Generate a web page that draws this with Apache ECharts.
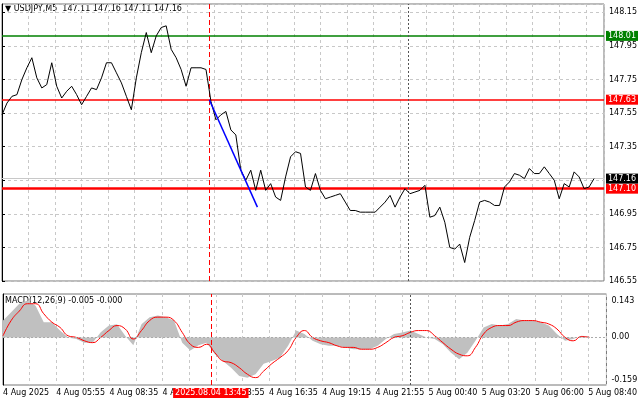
<!DOCTYPE html>
<html><head><meta charset="utf-8">
<script src="https://cdn.jsdelivr.net/npm/echarts@6/dist/echarts.min.js"></script>
<style>html,body{margin:0;padding:0;background:#fff}#c{width:640px;height:401px}</style>
</head><body><div id="c"></div>
<script>
// price samples, one every 3 M5 bars (15 min) starting 4 Aug 03:15
const prices = [147.54,147.61,147.65,147.66,147.75,147.82,147.88,147.76,147.70,147.72,
147.85,147.71,147.64,147.68,147.71,147.66,147.60,147.65,147.70,147.69,
147.76,147.85,147.85,147.79,147.73,147.65,147.57,147.76,147.91,148.03,
147.91,148.01,148.06,148.07,147.93,147.88,147.81,147.71,147.82,147.82,
147.82,147.81,147.62,147.51,147.54,147.56,147.45,147.42,147.21,147.15,
147.21,147.09,147.21,147.09,147.13,147.05,147.03,147.17,147.29,147.32,
147.31,147.11,147.09,147.19,147.09,147.04,147.05,147.06,147.07,147.02,
146.97,146.97,146.96,146.96,146.96,146.96,146.99,147.02,147.06,146.99,
147.05,147.10,147.07,147.08,147.09,147.12,146.93,146.94,146.99,146.90,
146.75,146.74,146.77,146.66,146.81,146.91,147.02,147.03,147.02,147.00,
147.00,147.11,147.14,147.19,147.18,147.16,147.22,147.19,147.19,147.23,
147.19,147.15,147.04,147.13,147.11,147.20,147.17,147.10,147.11,147.16];
const macdHist = [0.064,0.096,0.128,0.14,0.12,0.058,0.058,0.026,0,-0.006,-0.02,-0.02,0.02,0.045,0.05,0.006,-0.03,0.05,0.077,0.083,0.077,0.064,-0.02,-0.05,-0.03,-0.02,-0.064,-0.09,-0.115,-0.147,-0.153,-0.14,-0.10,-0.09,-0.077,-0.032,0.026,0.013,-0.013,-0.026,-0.032,-0.032,-0.038,-0.045,-0.045,-0.045,-0.032,-0.006,0.013,0.019,0.026,0.013,0,-0.006,-0.026,-0.058,-0.083,-0.058,-0.013,0.038,0.051,0.045,0.051,0.070,0.064,0.064,0.058,0.045,0.013,-0.013,-0.006,0.006,0.003];
const macdSignal = [0.006,0.064,0.10,0.128,0.128,0.09,0.058,0.038,0.006,0,-0.013,-0.02,0,0.026,0.045,0.032,-0.006,0.026,0.064,0.077,0.077,0.064,0.019,-0.026,-0.038,-0.026,-0.058,-0.09,-0.096,-0.115,-0.14,-0.153,-0.128,-0.10,-0.077,-0.05,0,0.026,0,-0.013,-0.02,-0.032,-0.038,-0.038,-0.045,-0.045,-0.038,-0.02,0,0.006,0.019,0.026,0.026,0.006,-0.02,-0.045,-0.064,-0.07,-0.038,0.013,0.038,0.045,0.045,0.058,0.064,0.064,0.058,0.051,0.032,0,-0.013,0.003,0];
const timeLabels = ['4 Aug 2025','4 Aug 05:55','4 Aug 08:35','4 Aug 11:15','4 Aug 13:55','4 Aug 16:35','4 Aug 19:15','4 Aug 21:55','5 Aug 00:40','5 Aug 03:20','5 Aug 06:00','5 Aug 08:40'];
const levels = [{v:148.01,c:'#008000',w:1.5},{v:147.63,c:'#ff0000',w:1.5},{v:147.10,c:'#ff0000',w:2.5}];
const currentPrice = 147.16;
const trend = [[125,147.63],[154,146.99]];
const cursorBar = 125, cursorLabel = '2025.08.04 13:45', daySplitBar = 245;
const macdTicks = [0.143,0.00,-0.159];

const F = 'DejaVu Sans';
const priceData = prices.map((p,i)=>[i===prices.length-1?357:i*3,p]);
const histData = macdHist.map((v,i)=>[i*4.9,v]);
const sigData = macdSignal.map((v,i)=>[i*4.9,v]);
const xCommon = {type:'value',min:0,max:363,interval:16,axisLine:{show:false},axisTick:{show:false},
  splitLine:{show:true,lineStyle:{type:[3,3],color:'#c8c8c8'}}};
const chart = echarts.init(document.getElementById('c'));
chart.setOption({
  animation:false,
  textStyle:{fontFamily:F},
  graphic:[
    {type:'text',left:5,top:5,style:{text:'▼ USDJPY,M5  147.11 147.16 147.11 147.16',font:'8px '+F,fill:'#000'}},
    {type:'text',left:5,top:297,style:{text:'MACD(12,26,9) -0.005 -0.000',font:'8px '+F,fill:'#000'}}
  ],
  grid:[
    {left:2,right:33,top:4,height:277,show:true,borderColor:'#777',borderWidth:1},
    {left:2,right:33,top:294,height:91,show:true,borderColor:'#777',borderWidth:1}
  ],
  xAxis:[
    Object.assign({gridIndex:0,axisLabel:{show:false}},xCommon),
    Object.assign({gridIndex:1,axisLabel:{show:true,fontSize:8,color:'#000',align:'left',margin:4,
      formatter:v=>(v%32===0&&v/32<timeLabels.length)?timeLabels[v/32]:''}},xCommon)
  ],
  yAxis:[
    {gridIndex:0,type:'value',position:'right',min:146.55,max:148.2,interval:0.2,
     axisLine:{show:true,lineStyle:{color:'#000'}},axisTick:{show:true,length:3,lineStyle:{color:'#000'}},
     axisLabel:{fontSize:8,color:'#000',margin:5,showMaxLabel:false,formatter:v=>v.toFixed(2)},
     splitLine:{show:true,lineStyle:{type:[3,3],color:'#c8c8c8'}}},
    {gridIndex:1,type:'value',position:'right',min:-0.181,max:0.165,
     axisLine:{show:true,lineStyle:{color:'#000'}},axisTick:{show:false},axisLabel:{show:false},splitLine:{show:false}}
  ],
  series:[
    {type:'line',xAxisIndex:0,yAxisIndex:0,data:priceData,showSymbol:false,lineStyle:{color:'#000',width:1},z:5,
     markLine:{silent:true,symbol:'none',animation:false,data:[
       ...levels.map(l=>({yAxis:l.v,lineStyle:{color:l.c,width:l.w,type:'solid'},
         label:{show:true,position:'end',distance:2,formatter:l.v.toFixed(2),color:'#fff',backgroundColor:l.c,fontSize:8,padding:[1,2]}})),
       {yAxis:currentPrice,lineStyle:{color:'#c8c8c8',width:1,type:'solid'},
         label:{show:true,position:'end',distance:2,formatter:currentPrice.toFixed(2),color:'#fff',backgroundColor:'#000',fontSize:8,padding:[1,2]}},
       {xAxis:cursorBar,lineStyle:{color:'#ff0000',width:1,type:[5,3]},label:{show:false}},
       {xAxis:daySplitBar,lineStyle:{color:'#555',width:1,type:[2,2]},label:{show:false}}
     ]}},
    {type:'line',xAxisIndex:0,yAxisIndex:0,data:trend,showSymbol:false,lineStyle:{color:'#0000ff',width:1.5},z:6},
    {type:'line',xAxisIndex:1,yAxisIndex:1,data:histData,showSymbol:false,lineStyle:{width:0},
     areaStyle:{color:'#c0c0c0',opacity:1},z:2,
     markLine:{silent:true,symbol:'none',animation:false,data:[
       {yAxis:0,lineStyle:{color:'#aaa',type:[2,2],width:1},label:{show:false}},
       {xAxis:cursorBar,lineStyle:{color:'#ff0000',width:1,type:[5,3]},
         label:{show:true,position:'start',distance:3,formatter:cursorLabel,color:'#fff',backgroundColor:'#ff0000',fontSize:8,padding:[1,2]}},
       {xAxis:daySplitBar,lineStyle:{color:'#555',width:1,type:[2,2]},label:{show:false}}
     ]}},
    {type:'line',xAxisIndex:1,yAxisIndex:1,data:sigData,showSymbol:false,smooth:true,lineStyle:{color:'#ff0000',width:1},z:4,
     markLine:{silent:true,symbol:'none',animation:false,data:
       macdTicks.map(t=>({yAxis:t,lineStyle:{color:'rgba(0,0,0,0)',width:1},label:{show:true,position:'end',distance:5,formatter:t===0?'0.00':t.toFixed(3),color:'#000',fontSize:8}}))
     }}
  ]
});
</script></body></html>
